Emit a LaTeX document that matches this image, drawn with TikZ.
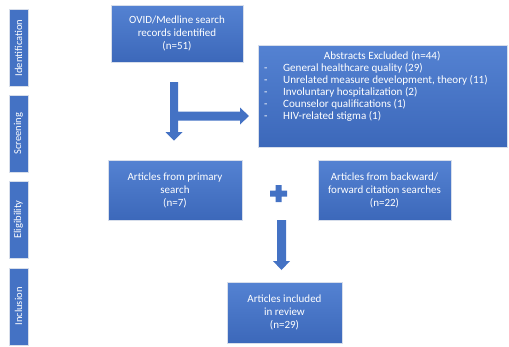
\documentclass[tikz,border=0pt]{standalone}
\usepackage{fontspec}
\setmainfont{Carlito}
\definecolor{boxblue}{RGB}{68,114,196}
\definecolor{boxtop}{RGB}{84,130,210}
\definecolor{boxbot}{RGB}{60,104,186}
\definecolor{edgecol}{RGB}{215,222,235}
\begin{document}
\begin{tikzpicture}[x=1pt,y=-1pt,
  bluebox/.style={rectangle, top color=boxtop, bottom color=boxbot, draw=edgecol, line width=0.8pt,
    text=white, align=center, inner sep=2pt, font=\fontsize{11}{13}\selectfont},
  sidebar/.style={rectangle, fill=boxblue, draw=edgecol, line width=0.6pt, text=white,
    minimum width=19pt, minimum height=77pt, inner sep=0pt},
  sidelabel/.style={text=white, rotate=90, font=\fontsize{10.5}{12}\selectfont},
  fatarrow/.style={fill=boxblue, draw=none}]
\useasboundingbox (0,0) rectangle (509,346);
% side bars
\node[sidebar] (sid) at (18.5,48) {};
\node[sidelabel] at (sid.center) {Identification};
\node[sidebar] (sscr) at (18.5,133.5) {};
\node[sidelabel] at (sscr.center) {Screening};
\node[sidebar] (selig) at (18.5,219.5) {};
\node[sidelabel] at (selig.center) {Eligibility};
\node[sidebar] (sincl) at (18.5,306.5) {};
\node[sidelabel] at (sincl.center) {Inclusion};
% boxes
\node[bluebox, minimum width=132pt, minimum height=57pt] (ovid) at (177,33.5)
  {OVID/Medline search\\records identified\\(n=51)};
\node[bluebox, minimum width=249pt, minimum height=102pt] (abs) at (382.5,96) {};
\node[anchor=north west, align=left, text=white, inner sep=0pt,
  font=\fontsize{11.1}{12}\selectfont] (abstxt) at (264,51)
  {\makebox[236pt][c]{Abstracts Excluded (n=44)}\\
   \makebox[19pt][l]{-}General healthcare quality (29)\\
   \makebox[19pt][l]{-}Unrelated measure development, theory (11)\\
   \makebox[19pt][l]{-}Involuntary hospitalization (2)\\
   \makebox[19pt][l]{-}Counselor qualifications (1)\\
   \makebox[19pt][l]{-}HIV-related stigma (1)};
\node[bluebox, minimum width=134pt, minimum height=60pt] (prim) at (175,190)
  {Articles from primary\\search\\(n=7)};
\node[bluebox, minimum width=133pt, minimum height=60pt] (back) at (384.5,190)
  {Articles from backward/\\forward citation searches\\(n=22)};
\node[bluebox, minimum width=115pt, minimum height=61pt] (incl) at (284.5,312.5)
  {Articles included\\in review\\(n=29)};
% bent arrow
\fill[fatarrow] (170,82) -- (178,82) -- (178,111.5) -- (240,111.5) -- (240,107.5) -- (249,116)
  -- (240,124.5) -- (240,120.5) -- (178,120.5) -- (178,132) -- (182.5,132) -- (174,140.5)
  -- (165.5,132) -- (170,132) -- cycle;
% plus
\fill[fatarrow] (270,190.5) -- (275.5,190.5) -- (275.5,185) -- (281.5,185) -- (281.5,190.5)
  -- (287,190.5) -- (287,196.5) -- (281.5,196.5) -- (281.5,202) -- (275.5,202)
  -- (275.5,196.5) -- (270,196.5) -- cycle;
% down arrow
\fill[fatarrow] (277,220) -- (286,220) -- (286,261) -- (290,261) -- (281.5,270)
  -- (273,261) -- (277,261) -- cycle;
\end{tikzpicture}
\end{document}
